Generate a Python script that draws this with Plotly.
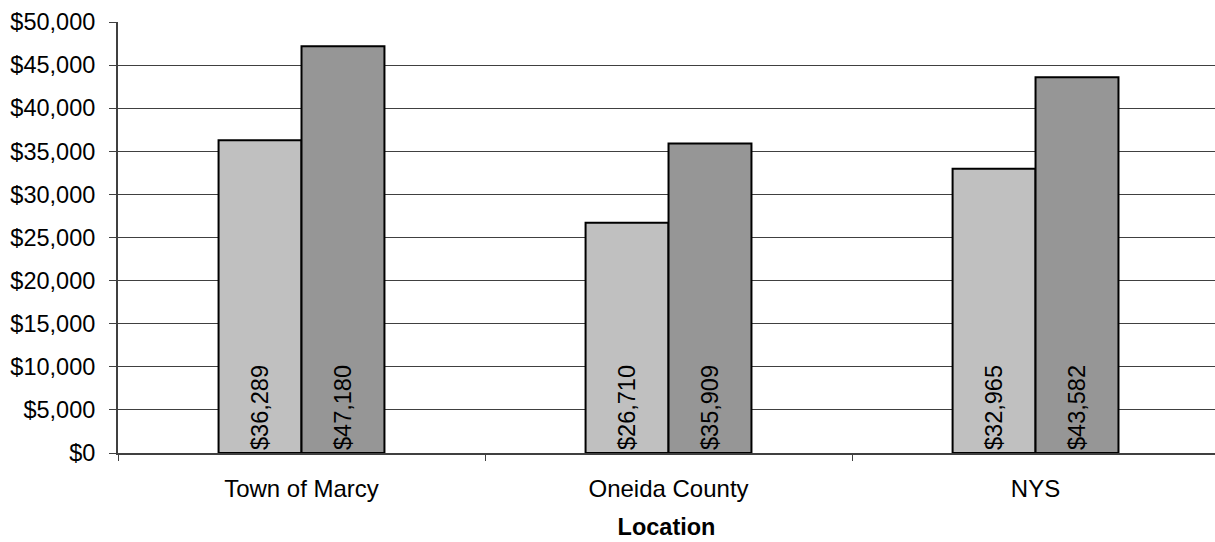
import plotly.graph_objects as go

# Median household income by location, two survey years
locations = ["Town of Marcy", "Oneida County", "NYS"]
income_a = [36289, 26710, 32965]
income_b = [47180, 35909, 43582]

y_ticks = [0, 5000, 10000, 15000, 20000, 25000, 30000, 35000, 40000, 45000, 50000]
y_tick_labels = ["$0", "$5,000", "$10,000", "$15,000", "$20,000", "$25,000",
                 "$30,000", "$35,000", "$40,000", "$45,000", "$50,000"]

FONT = "Liberation Sans, Arial, sans-serif"


def money(v):
    return "${:,}".format(v)


fig = go.Figure()
for vals, color in [(income_a, "#C0C0C0"), (income_b, "#969696")]:
    fig.add_trace(go.Bar(
        x=locations,
        y=vals,
        text=[money(v) for v in vals],
        textposition="inside",
        insidetextanchor="start",
        textangle=-90,
        textfont=dict(family=FONT, size=23.5, color="#000000"),
        marker=dict(color=color, line=dict(color="#000000", width=2)),
        cliponaxis=False,
    ))

fig.update_layout(
    width=1215,
    height=542,
    margin=dict(l=118, r=0, t=22, b=89),
    paper_bgcolor="#FFFFFF",
    plot_bgcolor="#FFFFFF",
    barmode="group",
    bargap=0.548,
    bargroupgap=0,
    showlegend=False,
    uniformtext=dict(minsize=20, mode="show"),
    font=dict(family=FONT, size=23, color="#000000"),
    xaxis=dict(
        type="category",
        range=[-0.5, 2.489],
        showline=True,
        linecolor="#404040",
        linewidth=2,
        ticks="outside",
        tickson="boundaries",
        ticklen=6,
        tickcolor="#404040",
        tickwidth=1,
        showgrid=False,
        tickfont=dict(family=FONT, size=24),
        ticklabelstandoff=13,
        title=dict(text="<b>Location</b>", font=dict(family=FONT, size=23.5), standoff=18),
    ),
    yaxis=dict(
        range=[0, 50000],
        tickvals=y_ticks,
        ticktext=y_tick_labels,
        showline=True,
        linecolor="#404040",
        linewidth=2,
        ticks="outside",
        ticklen=7,
        tickcolor="#404040",
        tickwidth=1,
        showgrid=True,
        gridcolor="#404040",
        gridwidth=1,
        zeroline=False,
        tickfont=dict(family=FONT, size=23.5),
        ticklabelstandoff=9,
    ),
)

fig.write_html("out.html")
